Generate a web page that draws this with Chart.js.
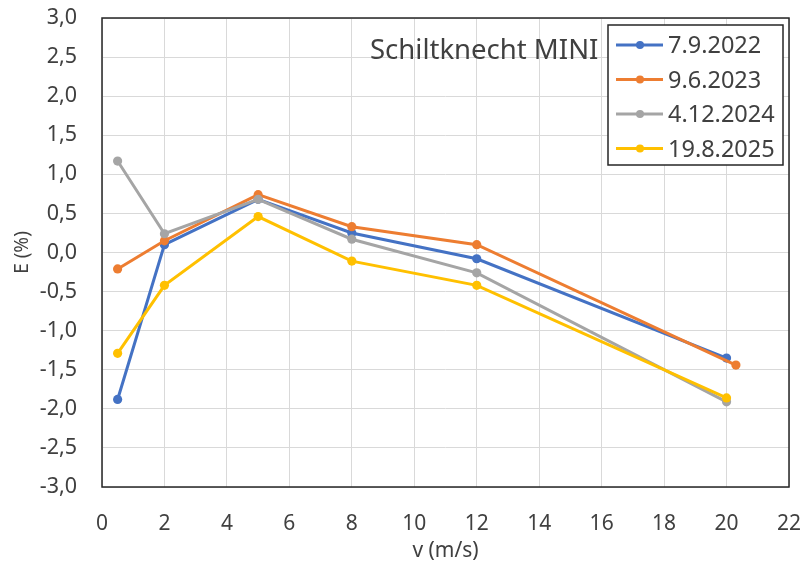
<!DOCTYPE html>
<html>
<head>
<meta charset="utf-8">
<script src="https://cdn.jsdelivr.net/npm/chart.js@4"></script>
<style>
  html, body { margin: 0; padding: 0; background: #ffffff; }
  #wrap { width: 803px; height: 564px; }
</style>
</head>
<body>
<div id="wrap"><canvas id="c" width="803" height="564"></canvas></div>
<script>
// Wind speed points (m/s) of each calibration run
const speeds2022 = [0.5, 2, 5, 8, 12, 20];
const speeds2023 = [0.5, 2, 5, 8, 12, 20.3];
const speeds2024 = [0.5, 2, 5, 8, 12, 20];
const speeds2025 = [0.5, 2, 5, 8, 12, 20];

// Relative error E (%) at those speeds
const err2022 = [-1.88, 0.10, 0.68, 0.25, -0.08, -1.35];
const err2023 = [-0.21, 0.15, 0.74, 0.33, 0.10, -1.44];
const err2024 = [1.17, 0.24, 0.68, 0.17, -0.26, -1.91];
const err2025 = [-1.29, -0.42, 0.46, -0.11, -0.42, -1.86];

const seriesLabels = ['7.9.2022', '9.6.2023', '4.12.2024', '19.8.2025'];
const seriesColors = ['#4472C4', '#ED7D31', '#A5A5A5', '#FFC000'];

const chartTitle = 'Schiltknecht MINI';
const xTitle = 'v (m/s)';
const yTitle = 'E (%)';

const FONT = '"Noto Sans", "Open Sans", sans-serif';
const TEXT = '#404040';

function pairs(xs, ys) { return xs.map((x, i) => ({ x: x, y: ys[i] })); }

const allSpeeds = [speeds2022, speeds2023, speeds2024, speeds2025];
const allErrors = [err2022, err2023, err2024, err2025];

const datasets = seriesLabels.map((label, i) => ({
  label: label,
  data: pairs(allSpeeds[i], allErrors[i]),
  borderColor: seriesColors[i],
  backgroundColor: seriesColors[i],
  borderWidth: 3,
  pointRadius: 4.6,
  pointHoverRadius: 4.6,
  pointBorderWidth: 0,
  tension: 0,
  // later series are painted over earlier ones
  order: seriesLabels.length - 1 - i
}));

// Frame around the plot area, the title and the boxed legend
const decorations = {
  id: 'decorations',
  afterDatasetsDraw(chart) {
    const ctx = chart.ctx;
    const a = chart.chartArea;
    ctx.save();
    ctx.strokeStyle = '#262626';
    ctx.lineWidth = 1.5;
    ctx.strokeRect(a.left, a.top, a.right - a.left, a.bottom - a.top);

    // chart title
    ctx.fillStyle = TEXT;
    ctx.font = '27.5px ' + FONT;
    ctx.textAlign = 'left';
    ctx.textBaseline = 'alphabetic';
    ctx.fillText(chartTitle, 370, 59);

    // legend
    const bx = 608, by = 25, bw = 175, bh = 140;
    ctx.fillStyle = '#ffffff';
    ctx.fillRect(bx, by, bw, bh);
    ctx.strokeStyle = '#262626';
    ctx.lineWidth = 1.5;
    ctx.strokeRect(bx, by, bw, bh);
    ctx.font = '23.5px ' + FONT;
    chart.data.datasets.forEach((ds, i) => {
      const cy = 45 + i * 34.5;
      ctx.strokeStyle = ds.borderColor;
      ctx.lineWidth = 3;
      ctx.beginPath();
      ctx.moveTo(616, cy);
      ctx.lineTo(663, cy);
      ctx.stroke();
      ctx.fillStyle = ds.borderColor;
      ctx.beginPath();
      ctx.arc(640, cy, 4, 0, Math.PI * 2);
      ctx.fill();
      ctx.fillStyle = TEXT;
      ctx.fillText(ds.label, 668, cy + 8);
    });
    ctx.restore();
  }
};

function commaTick(v) {
  const s = (Math.abs(v) < 1e-9 ? 0 : v).toFixed(1);
  return s.replace('.', ',');
}

// fixed axis sizes; label overflow is already covered by the layout padding
function fixX(scale) {
  scale.height = 77;
  scale.paddingLeft = 0; scale.paddingRight = 0;
  scale.paddingTop = 0; scale.paddingBottom = 0;
}
function fixY(scale) {
  scale.width = 102;
  scale.paddingLeft = 0; scale.paddingRight = 0;
  scale.paddingTop = 0; scale.paddingBottom = 0;
}

new Chart(document.getElementById('c'), {
  type: 'line',
  data: { datasets: datasets },
  options: {
    responsive: false,
    animation: false,
    events: [],
    layout: { autoPadding: false, padding: { top: 18, right: 14, bottom: 0, left: 0 } },
    plugins: { legend: { display: false }, tooltip: { enabled: false }, title: { display: false } },
    scales: {
      x: {
        type: 'linear',
        min: 0,
        max: 22,
        afterFit: fixX,
        ticks: {
          stepSize: 2,
          color: TEXT,
          font: { family: FONT, size: 21 },
          padding: 24,
          maxRotation: 0,
          callback: v => String(v)
        },
        grid: { color: '#D9D9D9', lineWidth: 1, drawTicks: false, tickLength: 0 },
        border: { display: false },
        title: {
          display: true,
          text: xTitle,
          color: TEXT,
          font: { family: FONT, size: 21 },
          padding: { top: 0, bottom: 0 }
        }
      },
      y: {
        type: 'linear',
        min: -3,
        max: 3,
        afterFit: fixY,
        ticks: {
          stepSize: 0.5,
          color: TEXT,
          font: { family: FONT, size: 21.5 },
          padding: 25,
          callback: v => commaTick(v)
        },
        grid: { color: '#D9D9D9', lineWidth: 1, drawTicks: false, tickLength: 0 },
        border: { display: false },
        title: {
          display: true,
          text: yTitle,
          color: TEXT,
          font: { family: FONT, size: 19 },
          padding: { top: 11, bottom: 0 }
        }
      }
    }
  },
  plugins: [decorations]
});
</script>
</body>
</html>
